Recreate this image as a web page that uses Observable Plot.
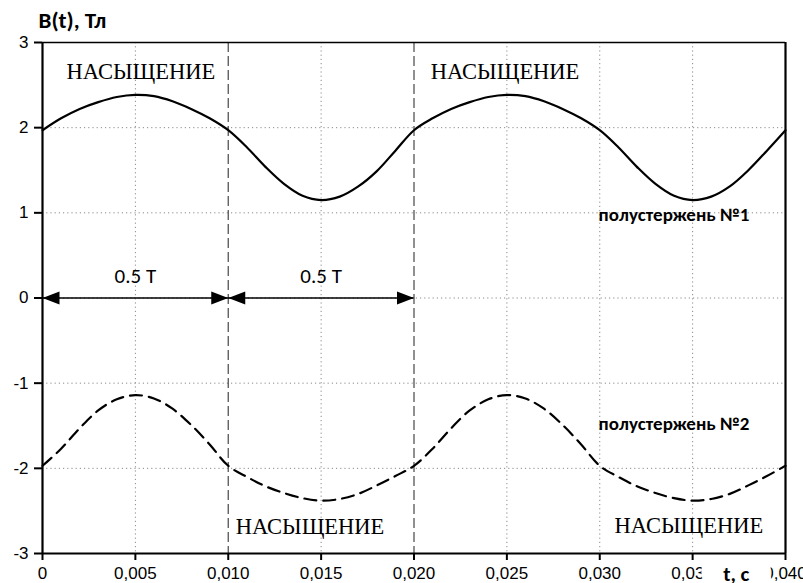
<!DOCTYPE html>
<html><head><meta charset="utf-8">
<script src="https://cdn.jsdelivr.net/npm/d3@7"></script>
<script src="https://cdn.jsdelivr.net/npm/@observablehq/plot@0.6"></script>
<style>body{margin:0;overflow:hidden;background:#fff}</style>
</head><body><div id="chart"></div>
<script>
// time samples, s
const t = [0,0.001,0.002,0.003,0.004,0.005,0.006,0.007,0.008,0.009,
  0.010,0.011,0.012,0.013,0.014,0.015,0.016,0.017,0.018,0.019,
  0.020,0.021,0.022,0.023,0.024,0.025,0.026,0.027,0.028,0.029,
  0.030,0.031,0.032,0.033,0.034,0.035,0.036,0.037,0.038,0.039,0.040];
// полустержень №1, Тл
const b1 = [1.97,2.11,2.22,2.30,2.36,2.385,2.37,2.31,2.22,2.11,
  1.97,1.77,1.54,1.34,1.20,1.15,1.19,1.31,1.49,1.73,
  1.97,2.11,2.22,2.30,2.36,2.385,2.37,2.31,2.22,2.11,
  1.97,1.77,1.54,1.34,1.20,1.15,1.19,1.31,1.50,1.73,1.97];
// полустержень №2, Тл
const b2 = [-1.97,-1.77,-1.53,-1.32,-1.19,-1.14,-1.18,-1.30,-1.49,-1.72,
  -1.97,-2.10,-2.21,-2.29,-2.35,-2.38,-2.36,-2.30,-2.20,-2.09,
  -1.97,-1.77,-1.53,-1.32,-1.19,-1.14,-1.18,-1.30,-1.49,-1.72,
  -1.97,-2.10,-2.21,-2.29,-2.35,-2.38,-2.36,-2.30,-2.20,-2.09,-1.97];

const xTicks = [0,0.005,0.010,0.015,0.020,0.025,0.030,0.035,0.040];
const yTicks = [-3,-2,-1,0,1,2,3];
const gridX = [0.005,0.015,0.025,0.030,0.035];
const gridY = [-2,-1,0,1,2];
const dashedX = [0.010,0.020];

const satLabels = [
  {x:0.0053,y:2.66,text:"НАСЫЩЕНИЕ"},
  {x:0.0249,y:2.66,text:"НАСЫЩЕНИЕ"},
  {x:0.0144,y:-2.69,text:"НАСЫЩЕНИЕ"},
  {x:0.0348,y:-2.68,text:"НАСЫЩЕНИЕ"}
];
const coreLabels = [
  {x:0.0340,y:0.97,text:"полустержень №1"},
  {x:0.0340,y:-1.48,text:"полустержень №2"}
];
const halfPeriods = [
  {x1:0.000,x2:0.010,y:0,label:"0.5 T",ly:0.25},
  {x1:0.010,x2:0.020,y:0,label:"0.5 T",ly:0.25}
];
const axisTitles = [{x:0,y:3,text:"B(t), Тл"}];
const xTitle = [{x:0.03735,y:-3,text:"t, c"}];

const s1 = t.map((d,i)=>({t:d,b:b1[i]}));
const s2 = t.map((d,i)=>({t:d,b:b2[i]}));

const headRight = {draw(ctx){ctx.moveTo(0,0);ctx.lineTo(-17,-6.5);ctx.lineTo(-17,6.5);ctx.closePath();}};
const headLeft = {draw(ctx){ctx.moveTo(0,0);ctx.lineTo(17,-6.5);ctx.lineTo(17,6.5);ctx.closePath();}};

const fmtX = d => d === 0 ? "0" : d.toFixed(3).replace(".", ",");
const fmtY = d => String(d);

const SANS = "'Liberation Sans', Arimo, Arial, sans-serif";
const SERIF = "'Liberation Serif', Tinos, 'Times New Roman', serif";
const CAL = "Carlito, Calibri, Lato, sans-serif";

const chart = Plot.plot({
  width:803, height:583,
  marginLeft:42, marginRight:18, marginTop:42, marginBottom:30,
  style:{background:"#fff", color:"#000", overflow:"visible"},
  x:{domain:[0,0.04]},
  y:{domain:[-3,3]},
  marks:[
    Plot.ruleX(gridX, {stroke:"#8a8a8a", strokeDasharray:"1.2,3", strokeWidth:1}),
    Plot.ruleY(gridY, {stroke:"#8a8a8a", strokeDasharray:"1.2,3", strokeWidth:1}),
    Plot.ruleX(dashedX, {stroke:"#555", strokeDasharray:"10,4", strokeWidth:1.3}),
    Plot.line(s1, {x:"t", y:"b", stroke:"#000", strokeWidth:2.2, curve:"catmull-rom"}),
    Plot.line(s2, {x:"t", y:"b", stroke:"#000", strokeWidth:2.2, strokeDasharray:"12,7", curve:"catmull-rom"}),
    Plot.ruleY(halfPeriods, {x1:"x1", x2:"x2", y:"y", stroke:"#000", strokeWidth:1.6}),
    Plot.dot(halfPeriods, {x:"x1", y:"y", symbol:headLeft, fill:"#000", stroke:null}),
    Plot.dot(halfPeriods, {x:"x2", y:"y", symbol:headRight, fill:"#000", stroke:null}),
    Plot.text(halfPeriods, {x:d=>(d.x1+d.x2)/2, y:"ly", text:"label", fontFamily:CAL, fontSize:21}),
    Plot.text(satLabels, {x:"x", y:"y", text:"text", fontFamily:SERIF, fontSize:22.5}),
    Plot.text(coreLabels, {x:"x", y:"y", text:"text", fontFamily:CAL, fontWeight:"bold", fontSize:19}),
    Plot.text(axisTitles, {x:"x", y:"y", text:"text", textAnchor:"start", dx:-4, dy:-22, fontFamily:CAL, fontWeight:"bold", fontSize:23}),
    Plot.axisY(yTicks, {tickSize:8, tickPadding:6, strokeWidth:2, label:null, tickFormat:fmtY, fontFamily:SANS, fontSize:17}),
    Plot.axisX(xTicks, {tickSize:7, tickPadding:6, strokeWidth:2, label:null, tickFormat:fmtX, fontFamily:SANS, fontSize:17}),
    Plot.text(xTitle, {x:"x", y:"y", text:"text", dy:21, fontFamily:CAL, fontWeight:"bold", fontSize:21, stroke:"#fff", strokeWidth:44, fill:"#000"}),
    Plot.ruleX([0], {stroke:"#000", strokeWidth:2.2}),
    Plot.ruleX([0.04], {stroke:"#000", strokeWidth:2.2}),
    Plot.ruleY([-3], {stroke:"#000", strokeWidth:2.2}),
    Plot.ruleY([3], {stroke:"#000", strokeWidth:1.6})
  ]
});
document.getElementById("chart").appendChild(chart);
</script>
</body></html>
